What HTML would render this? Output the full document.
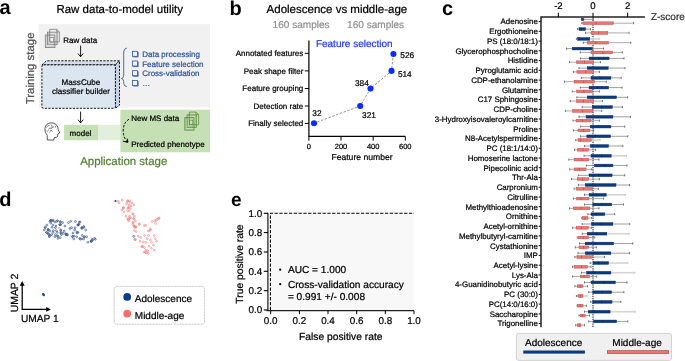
<!DOCTYPE html>
<html><head><meta charset="utf-8"><style>
html,body{margin:0;padding:0;background:#fff;}
body{width:685px;height:361px;overflow:hidden;}
svg{display:block;font-family:"Liberation Sans", sans-serif;will-change:transform;text-rendering:geometricPrecision;}
</style></head><body>
<svg width="685" height="361" viewBox="0 0 685 361">
<text x="-0.6" y="14.4" font-size="20" fill="#000" text-anchor="start" font-weight="bold" >a</text>
<text x="56.4" y="13.3" font-size="11.5" fill="#000" text-anchor="start" stroke="#000" stroke-width="0.22" >Raw data-to-model utility</text>
<rect x="38.8" y="24.2" width="171.2" height="83.2" fill="#f1f1f1"/>
<text transform="translate(33.5,68.4) rotate(-90)" font-size="11.4" fill="#505050" stroke="#505050" stroke-width="0.22" text-anchor="middle">Training stage</text>
<path d="M49.70 29.30 L56.70 29.30 L59.30 31.90 L59.30 41.90 L49.70 41.90 Z M56.70 29.30 L56.70 31.90 L59.30 31.90" fill="none" stroke="#7a7a7a" stroke-width="0.8"/><rect x="47.50" y="32.15" width="9.6" height="12.6" fill="none" stroke="#7a7a7a" stroke-width="0.8"/><rect x="48.40" y="33.05" width="7.80" height="10.80" fill="none" stroke="#7a7a7a" stroke-width="0.48" opacity="0.6"/><rect x="45.30" y="35.00" width="9.6" height="12.6" fill="none" stroke="#7a7a7a" stroke-width="0.8"/><rect x="46.20" y="35.90" width="7.80" height="10.80" fill="none" stroke="#7a7a7a" stroke-width="0.48" opacity="0.6"/><rect x="49.90" y="37.60" width="3.4" height="4.6" fill="none" stroke="#7a7a7a" stroke-width="0.64"/>
<text x="63.3" y="42.8" font-size="8" fill="#000" text-anchor="start" stroke="#000" stroke-width="0.22" >Raw data</text>
<line x1="80.6" y1="45.6" x2="80.6" y2="56.7" stroke="#000" stroke-width="0.9"/><path d="M78.0 53.5 L80.6 56.7 L83.19999999999999 53.5" fill="none" stroke="#000" stroke-width="0.9"/>
<path d="M41.9 64.9 L46.4 60.8 L119.5 60.8 L115.4 64.9 Z" fill="#d4deea" stroke="#000" stroke-width="0.9" stroke-dasharray="2.2 1.3"/>
<path d="M115.4 64.9 L119.5 60.8 L119.5 105.2 L115.4 108.3 Z" fill="#c7d3e2" stroke="#000" stroke-width="0.9" stroke-dasharray="2.2 1.3"/>
<rect x="41.9" y="64.9" width="73.5" height="43.4" rx="1.5" fill="#dce6f1" stroke="#000" stroke-width="0.9" stroke-dasharray="2.2 1.3"/>
<text x="80.9" y="85.0" font-size="8.1" fill="#000" text-anchor="middle" stroke="#000" stroke-width="0.22" >MassCube</text>
<text x="80.9" y="94.3" font-size="8.1" fill="#000" text-anchor="middle" stroke="#000" stroke-width="0.22" >classifier builder</text>
<path d="M126.9 48.0 Q123.7 48.4 123.7 52 L123.7 75.2 Q123.7 78.3 121.4 78.6 Q123.7 78.9 123.7 81.6 L123.7 83.2 Q123.7 86.3 126.9 86.6" fill="none" stroke="#2f5597" stroke-width="0.85"/>
<rect x="132.4" y="51.3" width="5" height="5" fill="none" stroke="#2f5597" stroke-width="0.8"/>
<path d="M133.2 56.9 L138.2 56.9 L138.2 52.1" fill="none" stroke="#2f5597" stroke-width="0.8"/>
<text x="142.2" y="57.0" font-size="8" fill="#2f5597" text-anchor="start" stroke="#2f5597" stroke-width="0.22" >Data processing</text>
<rect x="132.4" y="61.0" width="5" height="5" fill="none" stroke="#2f5597" stroke-width="0.8"/>
<path d="M133.2 66.6 L138.2 66.6 L138.2 61.8" fill="none" stroke="#2f5597" stroke-width="0.8"/>
<text x="142.2" y="66.7" font-size="8" fill="#2f5597" text-anchor="start" stroke="#2f5597" stroke-width="0.22" >Feature selection</text>
<rect x="132.4" y="70.7" width="5" height="5" fill="none" stroke="#2f5597" stroke-width="0.8"/>
<path d="M133.2 76.3 L138.2 76.3 L138.2 71.5" fill="none" stroke="#2f5597" stroke-width="0.8"/>
<text x="142.2" y="76.4" font-size="8" fill="#2f5597" text-anchor="start" stroke="#2f5597" stroke-width="0.22" >Cross-validation</text>
<rect x="132.4" y="80.4" width="5" height="5" fill="none" stroke="#2f5597" stroke-width="0.8"/>
<path d="M133.2 86.0 L138.2 86.0 L138.2 81.2" fill="none" stroke="#2f5597" stroke-width="0.8"/>
<text x="142.2" y="86.1" font-size="8" fill="#2f5597" text-anchor="start" stroke="#2f5597" stroke-width="0.22" >…</text>
<line x1="80.6" y1="111.6" x2="80.6" y2="122.9" stroke="#000" stroke-width="0.9"/><path d="M78.0 119.7 L80.6 122.9 L83.19999999999999 119.7" fill="none" stroke="#000" stroke-width="0.9"/>
<path d="M47.3 140 L47.2 135.3 Q44.6 132.6 44.9 128.6 Q45.6 123.1 51.2 122.9 Q56.2 122.9 57.8 127.2 L58.1 129.6 L59.7 132.9 L57.7 134.2 L57.7 136.1 Q57.4 137.6 54.3 137.6 L53.7 140 Z" fill="#fff" stroke="#222" stroke-width="0.75" stroke-linejoin="round"/>
<path d="M46.5 127.5 Q47.5 125 49.5 125.5 M48.2 129.5 Q50 127 51.5 128.5 Q52.5 126.2 54.2 127 M49.5 132.5 L50.8 130.2 L52.8 131.5 M51 124.5 Q52.5 125.8 51.8 127.6 M54.8 125.5 Q55.8 126 55.5 127.5 M46.4 131 Q47.6 131.6 48.5 130.6" fill="none" stroke="#333" stroke-width="0.6"/>
<rect x="64.1" y="124.8" width="34.1" height="15.5" fill="#c5e0b4"/>
<rect x="98.2" y="124.8" width="22.2" height="15.5" fill="#e2efda"/>
<text x="69.6" y="135.9" font-size="8" fill="#000" text-anchor="start" stroke="#000" stroke-width="0.22" >model</text>
<rect x="120.4" y="109.7" width="89.6" height="42.6" fill="#c5e0b4"/>
<text x="131.2" y="121.3" font-size="8" fill="#000" text-anchor="start" stroke="#000" stroke-width="0.22" >New MS data</text>
<text x="131.2" y="146.9" font-size="8" fill="#000" text-anchor="start" stroke="#000" stroke-width="0.22" >Predicted phenotype</text>
<path d="M189.40 112.10 L196.00 112.10 L198.60 114.70 L198.60 124.70 L189.40 124.70 Z M196.00 112.10 L196.00 114.70 L198.60 114.70" fill="none" stroke="#5f8f45" stroke-width="0.8"/><rect x="187.10" y="114.85" width="9.2" height="12.6" fill="none" stroke="#5f8f45" stroke-width="0.8"/><rect x="188.00" y="115.75" width="7.40" height="10.80" fill="none" stroke="#5f8f45" stroke-width="0.48" opacity="0.6"/><rect x="184.80" y="117.60" width="9.2" height="12.6" fill="none" stroke="#5f8f45" stroke-width="0.8"/><rect x="185.70" y="118.50" width="7.40" height="10.80" fill="none" stroke="#5f8f45" stroke-width="0.48" opacity="0.6"/><rect x="189.40" y="120.20" width="3.4" height="4.6" fill="none" stroke="#5f8f45" stroke-width="0.64"/>
<path d="M129 119.2 Q123.2 122.8 123.2 131 Q123.3 137.2 126.6 140.8" fill="none" stroke="#000" stroke-width="0.95" stroke-dasharray="2.4 1.5"/>
<path d="M122.8 141.2 L127.9 142.2 L127.2 138.6" fill="none" stroke="#000" stroke-width="0.9"/><path d="M125.6 141.8 L127.9 142.2 L127.6 140.2 Z" fill="#000" stroke="#000" stroke-width="0.6"/>
<text x="80.2" y="165" font-size="11.45" fill="#548235" text-anchor="start" stroke="#548235" stroke-width="0.22" >Application stage</text>
<text x="229.6" y="14.6" font-size="20" fill="#000" text-anchor="start" font-weight="bold" >b</text>
<text x="266.6" y="13.4" font-size="11.5" fill="#000" text-anchor="start" stroke="#000" stroke-width="0.22" >Adolescence vs middle-age</text>
<text x="272.6" y="27.8" font-size="10.05" fill="#909090" text-anchor="start" stroke="#909090" stroke-width="0.22" >160 samples</text>
<text x="347.1" y="27.8" font-size="10.05" fill="#909090" text-anchor="start" stroke="#909090" stroke-width="0.22" >160 samples</text>
<text x="315.9" y="46.8" font-size="10" fill="#1e3cff" text-anchor="start" stroke="#1e3cff" stroke-width="0.22" >Feature selection</text>
<path d="M308.9 40.6 L308.9 136.4 L405.3 136.4" fill="none" stroke="#000" stroke-width="1.2"/>
<line x1="304.8" y1="53.3" x2="308.9" y2="53.3" stroke="#000" stroke-width="1"/>
<text x="303.3" y="56.2" font-size="8" fill="#000" text-anchor="end" stroke="#000" stroke-width="0.22" >Annotated features</text>
<line x1="304.8" y1="70.9" x2="308.9" y2="70.9" stroke="#000" stroke-width="1"/>
<text x="303.3" y="73.8" font-size="8" fill="#000" text-anchor="end" stroke="#000" stroke-width="0.22" >Peak shape filter</text>
<line x1="304.8" y1="88.5" x2="308.9" y2="88.5" stroke="#000" stroke-width="1"/>
<text x="303.3" y="91.4" font-size="8" fill="#000" text-anchor="end" stroke="#000" stroke-width="0.22" >Feature grouping</text>
<line x1="304.8" y1="106.0" x2="308.9" y2="106.0" stroke="#000" stroke-width="1"/>
<text x="303.3" y="108.9" font-size="8" fill="#000" text-anchor="end" stroke="#000" stroke-width="0.22" >Detection rate</text>
<line x1="304.8" y1="123.4" x2="308.9" y2="123.4" stroke="#000" stroke-width="1"/>
<text x="303.3" y="126.3" font-size="8" fill="#000" text-anchor="end" stroke="#000" stroke-width="0.22" >Finally selected</text>
<line x1="308.9" y1="136.4" x2="308.9" y2="140.6" stroke="#000" stroke-width="1"/>
<text x="308.9" y="148.7" font-size="7.5" fill="#000" text-anchor="middle" stroke="#000" stroke-width="0.22" >0</text>
<line x1="341.0" y1="136.4" x2="341.0" y2="140.6" stroke="#000" stroke-width="1"/>
<text x="341.0" y="148.7" font-size="7.5" fill="#000" text-anchor="middle" stroke="#000" stroke-width="0.22" >200</text>
<line x1="373.2" y1="136.4" x2="373.2" y2="140.6" stroke="#000" stroke-width="1"/>
<text x="373.2" y="148.7" font-size="7.5" fill="#000" text-anchor="middle" stroke="#000" stroke-width="0.22" >400</text>
<line x1="405.3" y1="136.4" x2="405.3" y2="140.6" stroke="#000" stroke-width="1"/>
<text x="405.3" y="148.7" font-size="7.5" fill="#000" text-anchor="middle" stroke="#000" stroke-width="0.22" >600</text>
<text x="362" y="160" font-size="8.6" fill="#000" text-anchor="middle" stroke="#000" stroke-width="0.22" >Feature number</text>
<path d="M393.4 54 L391.5 70.9 L370.5 88.6 L360.2 106 L314 123.2" fill="none" stroke="#888" stroke-width="0.9" stroke-dasharray="2.5 1.5"/>
<circle cx="393.4" cy="54" r="3.05" fill="#0b2cff"/>
<circle cx="391.5" cy="70.9" r="3.05" fill="#0b2cff"/>
<circle cx="370.5" cy="88.6" r="3.05" fill="#0b2cff"/>
<circle cx="360.2" cy="106" r="3.05" fill="#0b2cff"/>
<circle cx="314" cy="123.2" r="3.05" fill="#0b2cff"/>
<text x="400.3" y="58.0" font-size="8.3" fill="#000" text-anchor="start" stroke="#000" stroke-width="0.22" >526</text>
<text x="397.9" y="76.8" font-size="8.3" fill="#000" text-anchor="start" stroke="#000" stroke-width="0.22" >514</text>
<text x="355" y="86.2" font-size="8.3" fill="#000" text-anchor="start" stroke="#000" stroke-width="0.22" >384</text>
<text x="362.1" y="118.1" font-size="8.3" fill="#000" text-anchor="start" stroke="#000" stroke-width="0.22" >321</text>
<text x="312.3" y="115.6" font-size="8.3" fill="#000" text-anchor="start" stroke="#000" stroke-width="0.22" >32</text>
<text x="442.1" y="14.8" font-size="20" fill="#000" text-anchor="start" font-weight="bold" >c</text>
<path d="M541.0 327.2 L541.0 17.0 L644.9 17.0" fill="none" stroke="#222" stroke-width="1.5"/>
<line x1="558.4" y1="12.8" x2="558.4" y2="17.0" stroke="#111" stroke-width="1.1"/>
<text x="558.4" y="8.8" font-size="9.6" fill="#000" text-anchor="middle" stroke="#000" stroke-width="0.22" >-2</text>
<line x1="593.0" y1="12.8" x2="593.0" y2="17.0" stroke="#111" stroke-width="1.1"/>
<text x="593.0" y="8.8" font-size="9.6" fill="#000" text-anchor="middle" stroke="#000" stroke-width="0.22" >0</text>
<line x1="627.6" y1="12.8" x2="627.6" y2="17.0" stroke="#111" stroke-width="1.1"/>
<text x="627.6" y="8.8" font-size="9.6" fill="#000" text-anchor="middle" stroke="#000" stroke-width="0.22" >2</text>
<text x="650.9" y="20" font-size="10" fill="#333" text-anchor="start" stroke="#333" stroke-width="0.22" >Z-score</text>
<line x1="593" y1="17.5" x2="593" y2="328" stroke="#111" stroke-width="1" stroke-dasharray="1.3 1"/>
<line x1="538.7" y1="21.6" x2="541.0" y2="21.6" stroke="#111" stroke-width="1.0"/>
<text x="537.9" y="24.4" font-size="7.9" fill="#000" text-anchor="end" stroke="#000" stroke-width="0.22" >Adenosine</text>
<line x1="581.5" y1="19.4" x2="581.5" y2="19.4" stroke="#777" stroke-width="0.7"/><line x1="584" y1="19.4" x2="593.3" y2="19.4" stroke="#777" stroke-width="0.7"/><line x1="593.3" y1="18.3" x2="593.3" y2="20.5" stroke="#444" stroke-width="0.7"/><line x1="581.5" y1="18.3" x2="581.5" y2="20.5" stroke="#444" stroke-width="0.7"/><circle cx="582.6" cy="19.4" r="1.4" fill="#0c3a80" stroke="#082a60" stroke-width="0.4"/>
<line x1="581.8" y1="23.2" x2="582.9" y2="23.2" stroke="#8a8a8a" stroke-width="0.7"/><line x1="613.5" y1="23.2" x2="633.6" y2="23.2" stroke="#8a8a8a" stroke-width="0.7"/><line x1="633.6" y1="22.1" x2="633.6" y2="24.3" stroke="#444" stroke-width="0.7"/><line x1="581.8" y1="22.1" x2="581.8" y2="24.3" stroke="#444" stroke-width="0.7"/><rect x="582.9" y="21.85" width="30.6" height="2.7" fill="#f07470" stroke="#b04848" stroke-width="0.45"/><line x1="596.3" y1="21.85" x2="596.3" y2="24.55" stroke="#b04848" stroke-width="0.7"/>
<line x1="538.7" y1="31.3" x2="541.0" y2="31.3" stroke="#111" stroke-width="1.0"/>
<text x="537.9" y="34.1" font-size="7.9" fill="#000" text-anchor="end" stroke="#000" stroke-width="0.22" >Ergothioneine</text>
<line x1="577.5" y1="29.1" x2="579" y2="29.1" stroke="#777" stroke-width="0.7"/><line x1="585.6" y1="29.1" x2="590.5" y2="29.1" stroke="#777" stroke-width="0.7"/><line x1="590.5" y1="28.0" x2="590.5" y2="30.2" stroke="#444" stroke-width="0.7"/><line x1="577.5" y1="28.0" x2="577.5" y2="30.2" stroke="#444" stroke-width="0.7"/><rect x="579" y="27.75" width="6.6" height="2.7" fill="#0c3a80" stroke="#082a60" stroke-width="0.45"/><line x1="581" y1="27.75" x2="581" y2="30.45" stroke="#082a60" stroke-width="0.7"/>
<line x1="585.6" y1="32.9" x2="591" y2="32.9" stroke="#8a8a8a" stroke-width="0.7"/><line x1="607.8" y1="32.9" x2="629" y2="32.9" stroke="#8a8a8a" stroke-width="0.7"/><line x1="629" y1="31.8" x2="629" y2="34.0" stroke="#444" stroke-width="0.7"/><line x1="585.6" y1="31.8" x2="585.6" y2="34.0" stroke="#444" stroke-width="0.7"/><rect x="591" y="31.55" width="16.8" height="2.7" fill="#f07470" stroke="#b04848" stroke-width="0.45"/><line x1="598.6" y1="31.55" x2="598.6" y2="34.25" stroke="#b04848" stroke-width="0.7"/>
<line x1="538.7" y1="41.1" x2="541.0" y2="41.1" stroke="#111" stroke-width="1.0"/>
<text x="537.9" y="43.9" font-size="7.9" fill="#000" text-anchor="end" stroke="#000" stroke-width="0.22" >PS (18:0/18:1)</text>
<line x1="576.4" y1="38.9" x2="577.6" y2="38.9" stroke="#777" stroke-width="0.7"/><line x1="589.8" y1="38.9" x2="599.4" y2="38.9" stroke="#d4d4d4" stroke-width="1.6"/><line x1="599.4" y1="37.9" x2="599.4" y2="39.9" stroke="#bbb" stroke-width="0.7"/><line x1="576.4" y1="37.8" x2="576.4" y2="40.0" stroke="#444" stroke-width="0.7"/><rect x="577.6" y="37.55" width="12.2" height="2.7" fill="#0c3a80" stroke="#082a60" stroke-width="0.45"/><line x1="579.5" y1="37.55" x2="579.5" y2="40.25" stroke="#082a60" stroke-width="0.7"/>
<line x1="583.3" y1="42.7" x2="587.5" y2="42.7" stroke="#8a8a8a" stroke-width="0.7"/><line x1="608.6" y1="42.7" x2="630.8" y2="42.7" stroke="#8a8a8a" stroke-width="0.7"/><line x1="630.8" y1="41.6" x2="630.8" y2="43.8" stroke="#444" stroke-width="0.7"/><line x1="583.3" y1="41.6" x2="583.3" y2="43.8" stroke="#444" stroke-width="0.7"/><rect x="587.5" y="41.35" width="21.1" height="2.7" fill="#f07470" stroke="#b04848" stroke-width="0.45"/><line x1="595.6" y1="41.35" x2="595.6" y2="44.05" stroke="#b04848" stroke-width="0.7"/>
<line x1="538.7" y1="50.8" x2="541.0" y2="50.8" stroke="#111" stroke-width="1.0"/>
<text x="537.9" y="53.6" font-size="7.9" fill="#000" text-anchor="end" stroke="#000" stroke-width="0.22" >Glycerophosphocholine</text>
<line x1="566.5" y1="48.6" x2="572.3" y2="48.6" stroke="#777" stroke-width="0.7"/><line x1="592.2" y1="48.6" x2="603.6" y2="48.6" stroke="#777" stroke-width="0.7"/><line x1="603.6" y1="47.5" x2="603.6" y2="49.7" stroke="#444" stroke-width="0.7"/><line x1="566.5" y1="47.5" x2="566.5" y2="49.7" stroke="#444" stroke-width="0.7"/><rect x="572.3" y="47.25" width="19.9" height="2.7" fill="#0c3a80" stroke="#082a60" stroke-width="0.45"/><line x1="583.6" y1="47.25" x2="583.6" y2="49.95" stroke="#082a60" stroke-width="0.7"/>
<line x1="580.3" y1="52.4" x2="591" y2="52.4" stroke="#8a8a8a" stroke-width="0.7"/><line x1="612.7" y1="52.4" x2="622.4" y2="52.4" stroke="#8a8a8a" stroke-width="0.7"/><line x1="622.4" y1="51.3" x2="622.4" y2="53.5" stroke="#444" stroke-width="0.7"/><line x1="580.3" y1="51.3" x2="580.3" y2="53.5" stroke="#444" stroke-width="0.7"/><rect x="591" y="51.05" width="21.7" height="2.7" fill="#f07470" stroke="#b04848" stroke-width="0.45"/><line x1="602.8" y1="51.05" x2="602.8" y2="53.75" stroke="#b04848" stroke-width="0.7"/>
<line x1="538.7" y1="60.6" x2="541.0" y2="60.6" stroke="#111" stroke-width="1.0"/>
<text x="537.9" y="63.4" font-size="7.9" fill="#000" text-anchor="end" stroke="#000" stroke-width="0.22" >Histidine</text>
<line x1="580.6" y1="58.4" x2="589.1" y2="58.4" stroke="#777" stroke-width="0.7"/><line x1="609.1" y1="58.4" x2="624" y2="58.4" stroke="#777" stroke-width="0.7"/><line x1="624" y1="57.3" x2="624" y2="59.5" stroke="#444" stroke-width="0.7"/><line x1="580.6" y1="57.3" x2="580.6" y2="59.5" stroke="#444" stroke-width="0.7"/><rect x="589.1" y="57.05" width="20.0" height="2.7" fill="#0c3a80" stroke="#082a60" stroke-width="0.45"/><line x1="598.6" y1="57.05" x2="598.6" y2="59.75" stroke="#082a60" stroke-width="0.7"/>
<line x1="569.5" y1="62.2" x2="576.4" y2="62.2" stroke="#8a8a8a" stroke-width="0.7"/><line x1="593.6" y1="62.2" x2="600.5" y2="62.2" stroke="#8a8a8a" stroke-width="0.7"/><line x1="600.5" y1="61.1" x2="600.5" y2="63.3" stroke="#444" stroke-width="0.7"/><line x1="569.5" y1="61.1" x2="569.5" y2="63.3" stroke="#444" stroke-width="0.7"/><rect x="576.4" y="60.85" width="17.2" height="2.7" fill="#f07470" stroke="#b04848" stroke-width="0.45"/><line x1="584.5" y1="60.85" x2="584.5" y2="63.55" stroke="#b04848" stroke-width="0.7"/>
<line x1="538.7" y1="70.3" x2="541.0" y2="70.3" stroke="#111" stroke-width="1.0"/>
<text x="537.9" y="73.1" font-size="7.9" fill="#000" text-anchor="end" stroke="#000" stroke-width="0.22" >Pyroglutamic acid</text>
<line x1="579" y1="68.1" x2="587.2" y2="68.1" stroke="#777" stroke-width="0.7"/><line x1="608.2" y1="68.1" x2="625" y2="68.1" stroke="#777" stroke-width="0.7"/><line x1="625" y1="67.0" x2="625" y2="69.2" stroke="#444" stroke-width="0.7"/><line x1="579" y1="67.0" x2="579" y2="69.2" stroke="#444" stroke-width="0.7"/><rect x="587.2" y="66.75" width="21.0" height="2.7" fill="#0c3a80" stroke="#082a60" stroke-width="0.45"/><line x1="597.1" y1="66.75" x2="597.1" y2="69.45" stroke="#082a60" stroke-width="0.7"/>
<line x1="573.4" y1="71.9" x2="576.9" y2="71.9" stroke="#8a8a8a" stroke-width="0.7"/><line x1="593.6" y1="71.9" x2="599.4" y2="71.9" stroke="#8a8a8a" stroke-width="0.7"/><line x1="599.4" y1="70.8" x2="599.4" y2="73.0" stroke="#444" stroke-width="0.7"/><line x1="573.4" y1="70.8" x2="573.4" y2="73.0" stroke="#444" stroke-width="0.7"/><rect x="576.9" y="70.55" width="16.7" height="2.7" fill="#f07470" stroke="#b04848" stroke-width="0.45"/><line x1="585.6" y1="70.55" x2="585.6" y2="73.25" stroke="#b04848" stroke-width="0.7"/>
<line x1="538.7" y1="80.1" x2="541.0" y2="80.1" stroke="#111" stroke-width="1.0"/>
<text x="537.9" y="82.9" font-size="7.9" fill="#000" text-anchor="end" stroke="#000" stroke-width="0.22" >CDP-ethanolamine</text>
<line x1="581.3" y1="77.9" x2="591" y2="77.9" stroke="#777" stroke-width="0.7"/><line x1="610.9" y1="77.9" x2="621.2" y2="77.9" stroke="#777" stroke-width="0.7"/><line x1="621.2" y1="76.8" x2="621.2" y2="79.0" stroke="#444" stroke-width="0.7"/><line x1="581.3" y1="76.8" x2="581.3" y2="79.0" stroke="#444" stroke-width="0.7"/><rect x="591" y="76.55" width="19.9" height="2.7" fill="#0c3a80" stroke="#082a60" stroke-width="0.45"/><line x1="601" y1="76.55" x2="601" y2="79.25" stroke="#082a60" stroke-width="0.7"/>
<line x1="564.5" y1="81.7" x2="574.1" y2="81.7" stroke="#8a8a8a" stroke-width="0.7"/><line x1="594.4" y1="81.7" x2="606.3" y2="81.7" stroke="#8a8a8a" stroke-width="0.7"/><line x1="606.3" y1="80.6" x2="606.3" y2="82.8" stroke="#444" stroke-width="0.7"/><line x1="564.5" y1="80.6" x2="564.5" y2="82.8" stroke="#444" stroke-width="0.7"/><rect x="574.1" y="80.35" width="20.3" height="2.7" fill="#f07470" stroke="#b04848" stroke-width="0.45"/><line x1="583.3" y1="80.35" x2="583.3" y2="83.05" stroke="#b04848" stroke-width="0.7"/>
<line x1="538.7" y1="89.8" x2="541.0" y2="89.8" stroke="#111" stroke-width="1.0"/>
<text x="537.9" y="92.6" font-size="7.9" fill="#000" text-anchor="end" stroke="#000" stroke-width="0.22" >Glutamine</text>
<line x1="580.3" y1="87.6" x2="589.1" y2="87.6" stroke="#777" stroke-width="0.7"/><line x1="608.6" y1="87.6" x2="622" y2="87.6" stroke="#777" stroke-width="0.7"/><line x1="622" y1="86.5" x2="622" y2="88.7" stroke="#444" stroke-width="0.7"/><line x1="580.3" y1="86.5" x2="580.3" y2="88.7" stroke="#444" stroke-width="0.7"/><rect x="589.1" y="86.25" width="19.5" height="2.7" fill="#0c3a80" stroke="#082a60" stroke-width="0.45"/><line x1="597.6" y1="86.25" x2="597.6" y2="88.95" stroke="#082a60" stroke-width="0.7"/>
<line x1="572.3" y1="91.4" x2="576.7" y2="91.4" stroke="#8a8a8a" stroke-width="0.7"/><line x1="592.5" y1="91.4" x2="599.4" y2="91.4" stroke="#8a8a8a" stroke-width="0.7"/><line x1="599.4" y1="90.3" x2="599.4" y2="92.5" stroke="#444" stroke-width="0.7"/><line x1="572.3" y1="90.3" x2="572.3" y2="92.5" stroke="#444" stroke-width="0.7"/><rect x="576.7" y="90.05" width="15.8" height="2.7" fill="#f07470" stroke="#b04848" stroke-width="0.45"/><line x1="583.8" y1="90.05" x2="583.8" y2="92.75" stroke="#b04848" stroke-width="0.7"/>
<line x1="538.7" y1="99.5" x2="541.0" y2="99.5" stroke="#111" stroke-width="1.0"/>
<text x="537.9" y="102.3" font-size="7.9" fill="#000" text-anchor="end" stroke="#000" stroke-width="0.22" >C17 Sphingosine</text>
<line x1="576.9" y1="97.3" x2="587.2" y2="97.3" stroke="#777" stroke-width="0.7"/><line x1="616.6" y1="97.3" x2="627.5" y2="97.3" stroke="#777" stroke-width="0.7"/><line x1="627.5" y1="96.2" x2="627.5" y2="98.4" stroke="#444" stroke-width="0.7"/><line x1="576.9" y1="96.2" x2="576.9" y2="98.4" stroke="#444" stroke-width="0.7"/><rect x="587.2" y="95.95" width="29.4" height="2.7" fill="#0c3a80" stroke="#082a60" stroke-width="0.45"/><line x1="597.9" y1="95.95" x2="597.9" y2="98.65" stroke="#082a60" stroke-width="0.7"/>
<line x1="570.3" y1="101.1" x2="576.4" y2="101.1" stroke="#8a8a8a" stroke-width="0.7"/><line x1="593.6" y1="101.1" x2="602.5" y2="101.1" stroke="#8a8a8a" stroke-width="0.7"/><line x1="602.5" y1="100.0" x2="602.5" y2="102.2" stroke="#444" stroke-width="0.7"/><line x1="570.3" y1="100.0" x2="570.3" y2="102.2" stroke="#444" stroke-width="0.7"/><rect x="576.4" y="99.75" width="17.2" height="2.7" fill="#f07470" stroke="#b04848" stroke-width="0.45"/><line x1="583.3" y1="99.75" x2="583.3" y2="102.45" stroke="#b04848" stroke-width="0.7"/>
<line x1="538.7" y1="109.3" x2="541.0" y2="109.3" stroke="#111" stroke-width="1.0"/>
<text x="537.9" y="112.1" font-size="7.9" fill="#000" text-anchor="end" stroke="#000" stroke-width="0.22" >CDP-choline</text>
<line x1="582.2" y1="107.1" x2="592.2" y2="107.1" stroke="#777" stroke-width="0.7"/><line x1="612.4" y1="107.1" x2="622.4" y2="107.1" stroke="#777" stroke-width="0.7"/><line x1="622.4" y1="106.0" x2="622.4" y2="108.2" stroke="#444" stroke-width="0.7"/><line x1="582.2" y1="106.0" x2="582.2" y2="108.2" stroke="#444" stroke-width="0.7"/><rect x="592.2" y="105.75" width="20.2" height="2.7" fill="#0c3a80" stroke="#082a60" stroke-width="0.45"/><line x1="601.7" y1="105.75" x2="601.7" y2="108.45" stroke="#082a60" stroke-width="0.7"/>
<line x1="565.4" y1="110.9" x2="572.6" y2="110.9" stroke="#8a8a8a" stroke-width="0.7"/><line x1="592.8" y1="110.9" x2="601.7" y2="110.9" stroke="#8a8a8a" stroke-width="0.7"/><line x1="601.7" y1="109.8" x2="601.7" y2="112.0" stroke="#444" stroke-width="0.7"/><line x1="565.4" y1="109.8" x2="565.4" y2="112.0" stroke="#444" stroke-width="0.7"/><rect x="572.6" y="109.55" width="20.2" height="2.7" fill="#f07470" stroke="#b04848" stroke-width="0.45"/><line x1="582.6" y1="109.55" x2="582.6" y2="112.25" stroke="#b04848" stroke-width="0.7"/>
<line x1="538.7" y1="119.0" x2="541.0" y2="119.0" stroke="#111" stroke-width="1.0"/>
<text x="537.9" y="121.8" font-size="7.9" fill="#000" text-anchor="end" stroke="#000" stroke-width="0.22" >3-Hydroxyisovaleroylcarnitine</text>
<line x1="579" y1="116.8" x2="586.1" y2="116.8" stroke="#777" stroke-width="0.7"/><line x1="612.9" y1="116.8" x2="630.5" y2="116.8" stroke="#777" stroke-width="0.7"/><line x1="630.5" y1="115.7" x2="630.5" y2="117.9" stroke="#444" stroke-width="0.7"/><line x1="579" y1="115.7" x2="579" y2="117.9" stroke="#444" stroke-width="0.7"/><rect x="586.1" y="115.45" width="26.8" height="2.7" fill="#0c3a80" stroke="#082a60" stroke-width="0.45"/><line x1="597.9" y1="115.45" x2="597.9" y2="118.15" stroke="#082a60" stroke-width="0.7"/>
<line x1="573" y1="120.6" x2="576.1" y2="120.6" stroke="#8a8a8a" stroke-width="0.7"/><line x1="591" y1="120.6" x2="599.4" y2="120.6" stroke="#8a8a8a" stroke-width="0.7"/><line x1="599.4" y1="119.5" x2="599.4" y2="121.7" stroke="#444" stroke-width="0.7"/><line x1="573" y1="119.5" x2="573" y2="121.7" stroke="#444" stroke-width="0.7"/><rect x="576.1" y="119.25" width="14.9" height="2.7" fill="#f07470" stroke="#b04848" stroke-width="0.45"/><line x1="582.6" y1="119.25" x2="582.6" y2="121.95" stroke="#b04848" stroke-width="0.7"/>
<line x1="538.7" y1="128.8" x2="541.0" y2="128.8" stroke="#111" stroke-width="1.0"/>
<text x="537.9" y="131.6" font-size="7.9" fill="#000" text-anchor="end" stroke="#000" stroke-width="0.22" >Proline</text>
<line x1="580.7" y1="126.6" x2="590.2" y2="126.6" stroke="#777" stroke-width="0.7"/><line x1="610.9" y1="126.6" x2="624.7" y2="126.6" stroke="#777" stroke-width="0.7"/><line x1="624.7" y1="125.5" x2="624.7" y2="127.7" stroke="#444" stroke-width="0.7"/><line x1="580.7" y1="125.5" x2="580.7" y2="127.7" stroke="#444" stroke-width="0.7"/><rect x="590.2" y="125.25" width="20.7" height="2.7" fill="#0c3a80" stroke="#082a60" stroke-width="0.45"/><line x1="598.6" y1="125.25" x2="598.6" y2="127.95" stroke="#082a60" stroke-width="0.7"/>
<line x1="573.4" y1="130.4" x2="578" y2="130.4" stroke="#8a8a8a" stroke-width="0.7"/><line x1="589.9" y1="130.4" x2="593.7" y2="130.4" stroke="#8a8a8a" stroke-width="0.7"/><line x1="593.7" y1="129.3" x2="593.7" y2="131.5" stroke="#444" stroke-width="0.7"/><line x1="573.4" y1="129.3" x2="573.4" y2="131.5" stroke="#444" stroke-width="0.7"/><rect x="578" y="129.05" width="11.9" height="2.7" fill="#f07470" stroke="#b04848" stroke-width="0.45"/><line x1="583.3" y1="129.05" x2="583.3" y2="131.75" stroke="#b04848" stroke-width="0.7"/>
<line x1="538.7" y1="138.5" x2="541.0" y2="138.5" stroke="#111" stroke-width="1.0"/>
<text x="537.9" y="141.3" font-size="7.9" fill="#000" text-anchor="end" stroke="#000" stroke-width="0.22" >N8-Acetylspermidine</text>
<line x1="580.6" y1="136.3" x2="586.8" y2="136.3" stroke="#777" stroke-width="0.7"/><line x1="610.6" y1="136.3" x2="627.8" y2="136.3" stroke="#777" stroke-width="0.7"/><line x1="627.8" y1="135.2" x2="627.8" y2="137.4" stroke="#444" stroke-width="0.7"/><line x1="580.6" y1="135.2" x2="580.6" y2="137.4" stroke="#444" stroke-width="0.7"/><rect x="586.8" y="134.95" width="23.8" height="2.7" fill="#0c3a80" stroke="#082a60" stroke-width="0.45"/><line x1="594.8" y1="134.95" x2="594.8" y2="137.65" stroke="#082a60" stroke-width="0.7"/>
<line x1="575.7" y1="140.1" x2="578" y2="140.1" stroke="#8a8a8a" stroke-width="0.7"/><line x1="591.3" y1="140.1" x2="600.2" y2="140.1" stroke="#d4d4d4" stroke-width="1.6"/><line x1="600.2" y1="139.1" x2="600.2" y2="141.1" stroke="#bbb" stroke-width="0.7"/><line x1="575.7" y1="139.0" x2="575.7" y2="141.2" stroke="#444" stroke-width="0.7"/><rect x="578" y="138.75" width="13.3" height="2.7" fill="#f07470" stroke="#b04848" stroke-width="0.45"/><line x1="580.3" y1="138.75" x2="580.3" y2="141.45" stroke="#b04848" stroke-width="0.7"/>
<line x1="538.7" y1="148.2" x2="541.0" y2="148.2" stroke="#111" stroke-width="1.0"/>
<text x="537.9" y="151.0" font-size="7.9" fill="#000" text-anchor="end" stroke="#000" stroke-width="0.22" >PC (18:1/14:0)</text>
<line x1="584.5" y1="146.0" x2="590.2" y2="146.0" stroke="#777" stroke-width="0.7"/><line x1="608.6" y1="146.0" x2="622.9" y2="146.0" stroke="#777" stroke-width="0.7"/><line x1="622.9" y1="144.9" x2="622.9" y2="147.1" stroke="#444" stroke-width="0.7"/><line x1="584.5" y1="144.9" x2="584.5" y2="147.1" stroke="#444" stroke-width="0.7"/><rect x="590.2" y="144.65" width="18.4" height="2.7" fill="#0c3a80" stroke="#082a60" stroke-width="0.45"/><line x1="597.6" y1="144.65" x2="597.6" y2="147.35" stroke="#082a60" stroke-width="0.7"/>
<line x1="574.6" y1="149.8" x2="577.6" y2="149.8" stroke="#8a8a8a" stroke-width="0.7"/><line x1="588.7" y1="149.8" x2="595.6" y2="149.8" stroke="#8a8a8a" stroke-width="0.7"/><line x1="595.6" y1="148.7" x2="595.6" y2="150.9" stroke="#444" stroke-width="0.7"/><line x1="574.6" y1="148.7" x2="574.6" y2="150.9" stroke="#444" stroke-width="0.7"/><rect x="577.6" y="148.45" width="11.1" height="2.7" fill="#f07470" stroke="#b04848" stroke-width="0.45"/><line x1="583" y1="148.45" x2="583" y2="151.15" stroke="#b04848" stroke-width="0.7"/>
<line x1="538.7" y1="158.0" x2="541.0" y2="158.0" stroke="#111" stroke-width="1.0"/>
<text x="537.9" y="160.8" font-size="7.9" fill="#000" text-anchor="end" stroke="#000" stroke-width="0.22" >Homoserine lactone</text>
<line x1="584.1" y1="155.8" x2="591" y2="155.8" stroke="#777" stroke-width="0.7"/><line x1="611.2" y1="155.8" x2="626.5" y2="155.8" stroke="#d4d4d4" stroke-width="1.6"/><line x1="626.5" y1="154.8" x2="626.5" y2="156.8" stroke="#bbb" stroke-width="0.7"/><line x1="584.1" y1="154.7" x2="584.1" y2="156.9" stroke="#444" stroke-width="0.7"/><rect x="591" y="154.45" width="20.2" height="2.7" fill="#0c3a80" stroke="#082a60" stroke-width="0.45"/><line x1="601.7" y1="154.45" x2="601.7" y2="157.15" stroke="#082a60" stroke-width="0.7"/>
<line x1="568.8" y1="159.6" x2="574.1" y2="159.6" stroke="#8a8a8a" stroke-width="0.7"/><line x1="588.7" y1="159.6" x2="599" y2="159.6" stroke="#8a8a8a" stroke-width="0.7"/><line x1="599" y1="158.5" x2="599" y2="160.7" stroke="#444" stroke-width="0.7"/><line x1="568.8" y1="158.5" x2="568.8" y2="160.7" stroke="#444" stroke-width="0.7"/><rect x="574.1" y="158.25" width="14.6" height="2.7" fill="#f07470" stroke="#b04848" stroke-width="0.45"/><line x1="581.8" y1="158.25" x2="581.8" y2="160.95" stroke="#b04848" stroke-width="0.7"/>
<line x1="538.7" y1="167.7" x2="541.0" y2="167.7" stroke="#111" stroke-width="1.0"/>
<text x="537.9" y="170.5" font-size="7.9" fill="#000" text-anchor="end" stroke="#000" stroke-width="0.22" >Pipecolinic acid</text>
<line x1="586.4" y1="165.5" x2="594.5" y2="165.5" stroke="#777" stroke-width="0.7"/><line x1="612.9" y1="165.5" x2="627" y2="165.5" stroke="#777" stroke-width="0.7"/><line x1="627" y1="164.4" x2="627" y2="166.6" stroke="#444" stroke-width="0.7"/><line x1="586.4" y1="164.4" x2="586.4" y2="166.6" stroke="#444" stroke-width="0.7"/><rect x="594.5" y="164.15" width="18.4" height="2.7" fill="#0c3a80" stroke="#082a60" stroke-width="0.45"/><line x1="604.8" y1="164.15" x2="604.8" y2="166.85" stroke="#082a60" stroke-width="0.7"/>
<line x1="569.8" y1="169.3" x2="574.1" y2="169.3" stroke="#8a8a8a" stroke-width="0.7"/><line x1="586.1" y1="169.3" x2="591.7" y2="169.3" stroke="#8a8a8a" stroke-width="0.7"/><line x1="591.7" y1="168.2" x2="591.7" y2="170.4" stroke="#444" stroke-width="0.7"/><line x1="569.8" y1="168.2" x2="569.8" y2="170.4" stroke="#444" stroke-width="0.7"/><rect x="574.1" y="167.95" width="12.0" height="2.7" fill="#f07470" stroke="#b04848" stroke-width="0.45"/><line x1="579.5" y1="167.95" x2="579.5" y2="170.65" stroke="#b04848" stroke-width="0.7"/>
<line x1="538.7" y1="177.5" x2="541.0" y2="177.5" stroke="#111" stroke-width="1.0"/>
<text x="537.9" y="180.3" font-size="7.9" fill="#000" text-anchor="end" stroke="#000" stroke-width="0.22" >Thr-Ala</text>
<line x1="578.4" y1="175.3" x2="589" y2="175.3" stroke="#777" stroke-width="0.7"/><line x1="612.1" y1="175.3" x2="624.7" y2="175.3" stroke="#777" stroke-width="0.7"/><line x1="624.7" y1="174.2" x2="624.7" y2="176.4" stroke="#444" stroke-width="0.7"/><line x1="578.4" y1="174.2" x2="578.4" y2="176.4" stroke="#444" stroke-width="0.7"/><rect x="589" y="173.95" width="23.1" height="2.7" fill="#0c3a80" stroke="#082a60" stroke-width="0.45"/><line x1="598.6" y1="173.95" x2="598.6" y2="176.65" stroke="#082a60" stroke-width="0.7"/>
<line x1="571.5" y1="179.1" x2="577.2" y2="179.1" stroke="#8a8a8a" stroke-width="0.7"/><line x1="588.7" y1="179.1" x2="599.4" y2="179.1" stroke="#8a8a8a" stroke-width="0.7"/><line x1="599.4" y1="178.0" x2="599.4" y2="180.2" stroke="#444" stroke-width="0.7"/><line x1="571.5" y1="178.0" x2="571.5" y2="180.2" stroke="#444" stroke-width="0.7"/><rect x="577.2" y="177.75" width="11.5" height="2.7" fill="#f07470" stroke="#b04848" stroke-width="0.45"/><line x1="582.6" y1="177.75" x2="582.6" y2="180.45" stroke="#b04848" stroke-width="0.7"/>
<line x1="538.7" y1="187.2" x2="541.0" y2="187.2" stroke="#111" stroke-width="1.0"/>
<text x="537.9" y="190.0" font-size="7.9" fill="#000" text-anchor="end" stroke="#000" stroke-width="0.22" >Carpronium</text>
<line x1="578.4" y1="185.0" x2="585.2" y2="185.0" stroke="#777" stroke-width="0.7"/><line x1="616" y1="185.0" x2="629.6" y2="185.0" stroke="#777" stroke-width="0.7"/><line x1="629.6" y1="183.9" x2="629.6" y2="186.1" stroke="#444" stroke-width="0.7"/><line x1="578.4" y1="183.9" x2="578.4" y2="186.1" stroke="#444" stroke-width="0.7"/><rect x="585.2" y="183.65" width="30.8" height="2.7" fill="#0c3a80" stroke="#082a60" stroke-width="0.45"/><line x1="595.3" y1="183.65" x2="595.3" y2="186.35" stroke="#082a60" stroke-width="0.7"/>
<line x1="574.1" y1="188.8" x2="576.4" y2="188.8" stroke="#8a8a8a" stroke-width="0.7"/><line x1="592.2" y1="188.8" x2="598.3" y2="188.8" stroke="#8a8a8a" stroke-width="0.7"/><line x1="598.3" y1="187.7" x2="598.3" y2="189.9" stroke="#444" stroke-width="0.7"/><line x1="574.1" y1="187.7" x2="574.1" y2="189.9" stroke="#444" stroke-width="0.7"/><rect x="576.4" y="187.45" width="15.8" height="2.7" fill="#f07470" stroke="#b04848" stroke-width="0.45"/><line x1="583.3" y1="187.45" x2="583.3" y2="190.15" stroke="#b04848" stroke-width="0.7"/>
<line x1="538.7" y1="197.0" x2="541.0" y2="197.0" stroke="#111" stroke-width="1.0"/>
<text x="537.9" y="199.8" font-size="7.9" fill="#000" text-anchor="end" stroke="#000" stroke-width="0.22" >Citrulline</text>
<line x1="584.5" y1="194.8" x2="589.1" y2="194.8" stroke="#777" stroke-width="0.7"/><line x1="606.3" y1="194.8" x2="625.5" y2="194.8" stroke="#d4d4d4" stroke-width="1.6"/><line x1="625.5" y1="193.8" x2="625.5" y2="195.8" stroke="#bbb" stroke-width="0.7"/><line x1="584.5" y1="193.7" x2="584.5" y2="195.9" stroke="#444" stroke-width="0.7"/><rect x="589.1" y="193.45" width="17.2" height="2.7" fill="#0c3a80" stroke="#082a60" stroke-width="0.45"/><line x1="596.3" y1="193.45" x2="596.3" y2="196.15" stroke="#082a60" stroke-width="0.7"/>
<line x1="573.4" y1="198.6" x2="576.7" y2="198.6" stroke="#8a8a8a" stroke-width="0.7"/><line x1="589" y1="198.6" x2="603.6" y2="198.6" stroke="#8a8a8a" stroke-width="0.7"/><line x1="603.6" y1="197.5" x2="603.6" y2="199.7" stroke="#444" stroke-width="0.7"/><line x1="573.4" y1="197.5" x2="573.4" y2="199.7" stroke="#444" stroke-width="0.7"/><rect x="576.7" y="197.25" width="12.3" height="2.7" fill="#f07470" stroke="#b04848" stroke-width="0.45"/><line x1="581" y1="197.25" x2="581" y2="199.95" stroke="#b04848" stroke-width="0.7"/>
<line x1="538.7" y1="206.7" x2="541.0" y2="206.7" stroke="#111" stroke-width="1.0"/>
<text x="537.9" y="209.5" font-size="7.9" fill="#000" text-anchor="end" stroke="#000" stroke-width="0.22" >Methylthioadenosine</text>
<line x1="584.5" y1="204.5" x2="592.8" y2="204.5" stroke="#777" stroke-width="0.7"/><line x1="611.7" y1="204.5" x2="623.5" y2="204.5" stroke="#777" stroke-width="0.7"/><line x1="623.5" y1="203.4" x2="623.5" y2="205.6" stroke="#444" stroke-width="0.7"/><line x1="584.5" y1="203.4" x2="584.5" y2="205.6" stroke="#444" stroke-width="0.7"/><rect x="592.8" y="203.15" width="18.9" height="2.7" fill="#0c3a80" stroke="#082a60" stroke-width="0.45"/><line x1="601.7" y1="203.15" x2="601.7" y2="205.85" stroke="#082a60" stroke-width="0.7"/>
<line x1="569.5" y1="208.3" x2="573.4" y2="208.3" stroke="#8a8a8a" stroke-width="0.7"/><line x1="589.9" y1="208.3" x2="599" y2="208.3" stroke="#8a8a8a" stroke-width="0.7"/><line x1="599" y1="207.2" x2="599" y2="209.4" stroke="#444" stroke-width="0.7"/><line x1="569.5" y1="207.2" x2="569.5" y2="209.4" stroke="#444" stroke-width="0.7"/><rect x="573.4" y="206.95" width="16.5" height="2.7" fill="#f07470" stroke="#b04848" stroke-width="0.45"/><line x1="581" y1="206.95" x2="581" y2="209.65" stroke="#b04848" stroke-width="0.7"/>
<line x1="538.7" y1="216.4" x2="541.0" y2="216.4" stroke="#111" stroke-width="1.0"/>
<text x="537.9" y="219.2" font-size="7.9" fill="#000" text-anchor="end" stroke="#000" stroke-width="0.22" >Ornithine</text>
<line x1="587.9" y1="214.2" x2="591" y2="214.2" stroke="#777" stroke-width="0.7"/><line x1="604.8" y1="214.2" x2="614.7" y2="214.2" stroke="#777" stroke-width="0.7"/><line x1="614.7" y1="213.1" x2="614.7" y2="215.3" stroke="#444" stroke-width="0.7"/><line x1="587.9" y1="213.1" x2="587.9" y2="215.3" stroke="#444" stroke-width="0.7"/><rect x="591" y="212.85" width="13.8" height="2.7" fill="#0c3a80" stroke="#082a60" stroke-width="0.45"/><line x1="596.3" y1="212.85" x2="596.3" y2="215.55" stroke="#082a60" stroke-width="0.7"/>
<line x1="581.8" y1="218.0" x2="582.2" y2="218.0" stroke="#8a8a8a" stroke-width="0.7"/><line x1="587.9" y1="218.0" x2="591.7" y2="218.0" stroke="#8a8a8a" stroke-width="0.7"/><line x1="591.7" y1="216.9" x2="591.7" y2="219.1" stroke="#444" stroke-width="0.7"/><line x1="581.8" y1="216.9" x2="581.8" y2="219.1" stroke="#444" stroke-width="0.7"/><rect x="582.2" y="216.65" width="5.7" height="2.7" fill="#f07470" stroke="#b04848" stroke-width="0.45"/><line x1="584.9" y1="216.65" x2="584.9" y2="219.35" stroke="#b04848" stroke-width="0.7"/>
<line x1="538.7" y1="226.2" x2="541.0" y2="226.2" stroke="#111" stroke-width="1.0"/>
<text x="537.9" y="229.0" font-size="7.9" fill="#000" text-anchor="end" stroke="#000" stroke-width="0.22" >Acetyl-ornithine</text>
<line x1="582.2" y1="224.0" x2="591.3" y2="224.0" stroke="#777" stroke-width="0.7"/><line x1="612.9" y1="224.0" x2="629.8" y2="224.0" stroke="#777" stroke-width="0.7"/><line x1="629.8" y1="222.9" x2="629.8" y2="225.1" stroke="#444" stroke-width="0.7"/><line x1="582.2" y1="222.9" x2="582.2" y2="225.1" stroke="#444" stroke-width="0.7"/><rect x="591.3" y="222.65" width="21.6" height="2.7" fill="#0c3a80" stroke="#082a60" stroke-width="0.45"/><line x1="601.4" y1="222.65" x2="601.4" y2="225.35" stroke="#082a60" stroke-width="0.7"/>
<line x1="572.6" y1="227.8" x2="576.1" y2="227.8" stroke="#8a8a8a" stroke-width="0.7"/><line x1="588.2" y1="227.8" x2="591.7" y2="227.8" stroke="#8a8a8a" stroke-width="0.7"/><line x1="591.7" y1="226.7" x2="591.7" y2="228.9" stroke="#444" stroke-width="0.7"/><line x1="572.6" y1="226.7" x2="572.6" y2="228.9" stroke="#444" stroke-width="0.7"/><rect x="576.1" y="226.45" width="12.1" height="2.7" fill="#f07470" stroke="#b04848" stroke-width="0.45"/><line x1="581.5" y1="226.45" x2="581.5" y2="229.15" stroke="#b04848" stroke-width="0.7"/>
<line x1="538.7" y1="235.9" x2="541.0" y2="235.9" stroke="#111" stroke-width="1.0"/>
<text x="537.9" y="238.7" font-size="7.9" fill="#000" text-anchor="end" stroke="#000" stroke-width="0.22" >Methylbutyryl-carnitine</text>
<line x1="582.2" y1="233.7" x2="587.2" y2="233.7" stroke="#777" stroke-width="0.7"/><line x1="606.8" y1="233.7" x2="629.3" y2="233.7" stroke="#d4d4d4" stroke-width="1.6"/><line x1="629.3" y1="232.7" x2="629.3" y2="234.7" stroke="#bbb" stroke-width="0.7"/><line x1="582.2" y1="232.6" x2="582.2" y2="234.8" stroke="#444" stroke-width="0.7"/><rect x="587.2" y="232.35" width="19.6" height="2.7" fill="#0c3a80" stroke="#082a60" stroke-width="0.45"/><line x1="597.1" y1="232.35" x2="597.1" y2="235.05" stroke="#082a60" stroke-width="0.7"/>
<line x1="577.2" y1="237.5" x2="578.4" y2="237.5" stroke="#8a8a8a" stroke-width="0.7"/><line x1="588.4" y1="237.5" x2="594.8" y2="237.5" stroke="#8a8a8a" stroke-width="0.7"/><line x1="594.8" y1="236.4" x2="594.8" y2="238.6" stroke="#444" stroke-width="0.7"/><line x1="577.2" y1="236.4" x2="577.2" y2="238.6" stroke="#444" stroke-width="0.7"/><rect x="578.4" y="236.15" width="10.0" height="2.7" fill="#f07470" stroke="#b04848" stroke-width="0.45"/><line x1="583.3" y1="236.15" x2="583.3" y2="238.85" stroke="#b04848" stroke-width="0.7"/>
<line x1="538.7" y1="245.7" x2="541.0" y2="245.7" stroke="#111" stroke-width="1.0"/>
<text x="537.9" y="248.5" font-size="7.9" fill="#000" text-anchor="end" stroke="#000" stroke-width="0.22" >Cystathionine</text>
<line x1="579.5" y1="243.5" x2="585.2" y2="243.5" stroke="#777" stroke-width="0.7"/><line x1="613.7" y1="243.5" x2="632.7" y2="243.5" stroke="#777" stroke-width="0.7"/><line x1="632.7" y1="242.4" x2="632.7" y2="244.6" stroke="#444" stroke-width="0.7"/><line x1="579.5" y1="242.4" x2="579.5" y2="244.6" stroke="#444" stroke-width="0.7"/><rect x="585.2" y="242.15" width="28.5" height="2.7" fill="#0c3a80" stroke="#082a60" stroke-width="0.45"/><line x1="595.3" y1="242.15" x2="595.3" y2="244.85" stroke="#082a60" stroke-width="0.7"/>
<line x1="575.3" y1="247.3" x2="579" y2="247.3" stroke="#8a8a8a" stroke-width="0.7"/><line x1="588.7" y1="247.3" x2="596.3" y2="247.3" stroke="#8a8a8a" stroke-width="0.7"/><line x1="596.3" y1="246.2" x2="596.3" y2="248.4" stroke="#444" stroke-width="0.7"/><line x1="575.3" y1="246.2" x2="575.3" y2="248.4" stroke="#444" stroke-width="0.7"/><rect x="579" y="245.95" width="9.7" height="2.7" fill="#f07470" stroke="#b04848" stroke-width="0.45"/><line x1="583.6" y1="245.95" x2="583.6" y2="248.65" stroke="#b04848" stroke-width="0.7"/>
<line x1="538.7" y1="255.4" x2="541.0" y2="255.4" stroke="#111" stroke-width="1.0"/>
<text x="537.9" y="258.2" font-size="7.9" fill="#000" text-anchor="end" stroke="#000" stroke-width="0.22" >IMP</text>
<line x1="578" y1="253.2" x2="585.2" y2="253.2" stroke="#777" stroke-width="0.7"/><line x1="610.9" y1="253.2" x2="629.6" y2="253.2" stroke="#777" stroke-width="0.7"/><line x1="629.6" y1="252.1" x2="629.6" y2="254.3" stroke="#444" stroke-width="0.7"/><line x1="578" y1="252.1" x2="578" y2="254.3" stroke="#444" stroke-width="0.7"/><rect x="585.2" y="251.85" width="25.7" height="2.7" fill="#0c3a80" stroke="#082a60" stroke-width="0.45"/><line x1="597.4" y1="251.85" x2="597.4" y2="254.55" stroke="#082a60" stroke-width="0.7"/>
<line x1="574.9" y1="257.0" x2="576.9" y2="257.0" stroke="#8a8a8a" stroke-width="0.7"/><line x1="592.2" y1="257.0" x2="604.5" y2="257.0" stroke="#8a8a8a" stroke-width="0.7"/><line x1="604.5" y1="255.9" x2="604.5" y2="258.1" stroke="#444" stroke-width="0.7"/><line x1="574.9" y1="255.9" x2="574.9" y2="258.1" stroke="#444" stroke-width="0.7"/><rect x="576.9" y="255.65" width="15.3" height="2.7" fill="#f07470" stroke="#b04848" stroke-width="0.45"/><line x1="581.5" y1="255.65" x2="581.5" y2="258.35" stroke="#b04848" stroke-width="0.7"/>
<line x1="538.7" y1="265.2" x2="541.0" y2="265.2" stroke="#111" stroke-width="1.0"/>
<text x="537.9" y="268.0" font-size="7.9" fill="#000" text-anchor="end" stroke="#000" stroke-width="0.22" >Acetyl-lysine</text>
<line x1="590.2" y1="263.0" x2="593.3" y2="263.0" stroke="#777" stroke-width="0.7"/><line x1="608.6" y1="263.0" x2="627.8" y2="263.0" stroke="#d4d4d4" stroke-width="1.6"/><line x1="627.8" y1="262.0" x2="627.8" y2="264.0" stroke="#bbb" stroke-width="0.7"/><line x1="590.2" y1="261.9" x2="590.2" y2="264.1" stroke="#444" stroke-width="0.7"/><rect x="593.3" y="261.65" width="15.3" height="2.7" fill="#0c3a80" stroke="#082a60" stroke-width="0.45"/><line x1="598.6" y1="261.65" x2="598.6" y2="264.35" stroke="#082a60" stroke-width="0.7"/>
<line x1="572.6" y1="266.8" x2="574.1" y2="266.8" stroke="#8a8a8a" stroke-width="0.7"/><line x1="587.6" y1="266.8" x2="591" y2="266.8" stroke="#8a8a8a" stroke-width="0.7"/><line x1="591" y1="265.7" x2="591" y2="267.9" stroke="#444" stroke-width="0.7"/><line x1="572.6" y1="265.7" x2="572.6" y2="267.9" stroke="#444" stroke-width="0.7"/><rect x="574.1" y="265.45" width="13.5" height="2.7" fill="#f07470" stroke="#b04848" stroke-width="0.45"/><line x1="581.5" y1="265.45" x2="581.5" y2="268.15" stroke="#b04848" stroke-width="0.7"/>
<line x1="538.7" y1="274.9" x2="541.0" y2="274.9" stroke="#111" stroke-width="1.0"/>
<text x="537.9" y="277.7" font-size="7.9" fill="#000" text-anchor="end" stroke="#000" stroke-width="0.22" >Lys-Ala</text>
<line x1="581.5" y1="272.7" x2="586.7" y2="272.7" stroke="#777" stroke-width="0.7"/><line x1="610.9" y1="272.7" x2="635" y2="272.7" stroke="#d4d4d4" stroke-width="1.6"/><line x1="635" y1="271.7" x2="635" y2="273.7" stroke="#bbb" stroke-width="0.7"/><line x1="581.5" y1="271.6" x2="581.5" y2="273.8" stroke="#444" stroke-width="0.7"/><rect x="586.7" y="271.35" width="24.2" height="2.7" fill="#0c3a80" stroke="#082a60" stroke-width="0.45"/><line x1="593.3" y1="271.35" x2="593.3" y2="274.05" stroke="#082a60" stroke-width="0.7"/>
<line x1="572.6" y1="276.5" x2="580.3" y2="276.5" stroke="#8a8a8a" stroke-width="0.7"/><line x1="589.5" y1="276.5" x2="596.7" y2="276.5" stroke="#8a8a8a" stroke-width="0.7"/><line x1="596.7" y1="275.4" x2="596.7" y2="277.6" stroke="#444" stroke-width="0.7"/><line x1="572.6" y1="275.4" x2="572.6" y2="277.6" stroke="#444" stroke-width="0.7"/><rect x="580.3" y="275.15" width="9.2" height="2.7" fill="#f07470" stroke="#b04848" stroke-width="0.45"/><line x1="584.1" y1="275.15" x2="584.1" y2="277.85" stroke="#b04848" stroke-width="0.7"/>
<line x1="538.7" y1="284.6" x2="541.0" y2="284.6" stroke="#111" stroke-width="1.0"/>
<text x="537.9" y="287.4" font-size="7.9" fill="#000" text-anchor="end" stroke="#000" stroke-width="0.22" >4-Guanidinobutyric acid</text>
<line x1="584.5" y1="282.4" x2="591" y2="282.4" stroke="#777" stroke-width="0.7"/><line x1="615.5" y1="282.4" x2="627" y2="282.4" stroke="#777" stroke-width="0.7"/><line x1="627" y1="281.3" x2="627" y2="283.5" stroke="#444" stroke-width="0.7"/><line x1="584.5" y1="281.3" x2="584.5" y2="283.5" stroke="#444" stroke-width="0.7"/><rect x="591" y="281.05" width="24.5" height="2.7" fill="#0c3a80" stroke="#082a60" stroke-width="0.45"/><line x1="603.6" y1="281.05" x2="603.6" y2="283.75" stroke="#082a60" stroke-width="0.7"/>
<line x1="574.9" y1="286.2" x2="577.2" y2="286.2" stroke="#8a8a8a" stroke-width="0.7"/><line x1="582.9" y1="286.2" x2="587.5" y2="286.2" stroke="#8a8a8a" stroke-width="0.7"/><line x1="587.5" y1="285.1" x2="587.5" y2="287.3" stroke="#444" stroke-width="0.7"/><line x1="574.9" y1="285.1" x2="574.9" y2="287.3" stroke="#444" stroke-width="0.7"/><rect x="577.2" y="284.85" width="5.7" height="2.7" fill="#f07470" stroke="#b04848" stroke-width="0.45"/><line x1="580.3" y1="284.85" x2="580.3" y2="287.55" stroke="#b04848" stroke-width="0.7"/>
<line x1="538.7" y1="294.4" x2="541.0" y2="294.4" stroke="#111" stroke-width="1.0"/>
<text x="537.9" y="297.2" font-size="7.9" fill="#000" text-anchor="end" stroke="#000" stroke-width="0.22" >PC (30:0)</text>
<line x1="588.7" y1="292.2" x2="592.8" y2="292.2" stroke="#777" stroke-width="0.7"/><line x1="611.7" y1="292.2" x2="623.9" y2="292.2" stroke="#777" stroke-width="0.7"/><line x1="623.9" y1="291.1" x2="623.9" y2="293.3" stroke="#444" stroke-width="0.7"/><line x1="588.7" y1="291.1" x2="588.7" y2="293.3" stroke="#444" stroke-width="0.7"/><rect x="592.8" y="290.85" width="18.9" height="2.7" fill="#0c3a80" stroke="#082a60" stroke-width="0.45"/><line x1="602.5" y1="290.85" x2="602.5" y2="293.55" stroke="#082a60" stroke-width="0.7"/>
<line x1="576.4" y1="296.0" x2="578" y2="296.0" stroke="#8a8a8a" stroke-width="0.7"/><line x1="583" y1="296.0" x2="587.2" y2="296.0" stroke="#d4d4d4" stroke-width="1.6"/><line x1="587.2" y1="295.0" x2="587.2" y2="297.0" stroke="#bbb" stroke-width="0.7"/><line x1="576.4" y1="294.9" x2="576.4" y2="297.1" stroke="#444" stroke-width="0.7"/><rect x="578" y="294.65" width="5.0" height="2.7" fill="#f07470" stroke="#b04848" stroke-width="0.45"/><line x1="580.3" y1="294.65" x2="580.3" y2="297.35" stroke="#b04848" stroke-width="0.7"/>
<line x1="538.7" y1="304.1" x2="541.0" y2="304.1" stroke="#111" stroke-width="1.0"/>
<text x="537.9" y="306.9" font-size="7.9" fill="#000" text-anchor="end" stroke="#000" stroke-width="0.22" >PC(14:0/16:0)</text>
<line x1="590.7" y1="301.9" x2="592.8" y2="301.9" stroke="#777" stroke-width="0.7"/><line x1="612" y1="301.9" x2="620.9" y2="301.9" stroke="#777" stroke-width="0.7"/><line x1="620.9" y1="300.8" x2="620.9" y2="303.0" stroke="#444" stroke-width="0.7"/><line x1="590.7" y1="300.8" x2="590.7" y2="303.0" stroke="#444" stroke-width="0.7"/><rect x="592.8" y="300.55" width="19.2" height="2.7" fill="#0c3a80" stroke="#082a60" stroke-width="0.45"/><line x1="601.7" y1="300.55" x2="601.7" y2="303.25" stroke="#082a60" stroke-width="0.7"/>
<line x1="577.2" y1="305.7" x2="577.6" y2="305.7" stroke="#8a8a8a" stroke-width="0.7"/><line x1="583" y1="305.7" x2="586.4" y2="305.7" stroke="#8a8a8a" stroke-width="0.7"/><line x1="586.4" y1="304.6" x2="586.4" y2="306.8" stroke="#444" stroke-width="0.7"/><line x1="577.2" y1="304.6" x2="577.2" y2="306.8" stroke="#444" stroke-width="0.7"/><rect x="577.6" y="304.35" width="5.4" height="2.7" fill="#f07470" stroke="#b04848" stroke-width="0.45"/><line x1="580.3" y1="304.35" x2="580.3" y2="307.05" stroke="#b04848" stroke-width="0.7"/>
<line x1="538.7" y1="313.9" x2="541.0" y2="313.9" stroke="#111" stroke-width="1.0"/>
<text x="537.9" y="316.7" font-size="7.9" fill="#000" text-anchor="end" stroke="#000" stroke-width="0.22" >Saccharopine</text>
<line x1="584.5" y1="311.7" x2="588.2" y2="311.7" stroke="#777" stroke-width="0.7"/><line x1="610.1" y1="311.7" x2="635.4" y2="311.7" stroke="#d4d4d4" stroke-width="1.6"/><line x1="635.4" y1="310.7" x2="635.4" y2="312.7" stroke="#bbb" stroke-width="0.7"/><line x1="584.5" y1="310.6" x2="584.5" y2="312.8" stroke="#444" stroke-width="0.7"/><rect x="588.2" y="310.35" width="21.9" height="2.7" fill="#0c3a80" stroke="#082a60" stroke-width="0.45"/><line x1="594" y1="310.35" x2="594" y2="313.05" stroke="#082a60" stroke-width="0.7"/>
<line x1="579" y1="315.5" x2="580.3" y2="315.5" stroke="#8a8a8a" stroke-width="0.7"/><line x1="585.2" y1="315.5" x2="589.5" y2="315.5" stroke="#8a8a8a" stroke-width="0.7"/><line x1="589.5" y1="314.4" x2="589.5" y2="316.6" stroke="#444" stroke-width="0.7"/><line x1="579" y1="314.4" x2="579" y2="316.6" stroke="#444" stroke-width="0.7"/><rect x="580.3" y="314.15" width="4.9" height="2.7" fill="#f07470" stroke="#b04848" stroke-width="0.45"/><line x1="582.6" y1="314.15" x2="582.6" y2="316.85" stroke="#b04848" stroke-width="0.7"/>
<line x1="538.7" y1="323.6" x2="541.0" y2="323.6" stroke="#111" stroke-width="1.0"/>
<text x="537.9" y="326.4" font-size="7.9" fill="#000" text-anchor="end" stroke="#000" stroke-width="0.22" >Trigonelline</text>
<line x1="588.7" y1="321.4" x2="593.7" y2="321.4" stroke="#777" stroke-width="0.7"/><line x1="616.7" y1="321.4" x2="627.8" y2="321.4" stroke="#777" stroke-width="0.7"/><line x1="627.8" y1="320.3" x2="627.8" y2="322.5" stroke="#444" stroke-width="0.7"/><line x1="588.7" y1="320.3" x2="588.7" y2="322.5" stroke="#444" stroke-width="0.7"/><rect x="593.7" y="320.05" width="23.0" height="2.7" fill="#0c3a80" stroke="#082a60" stroke-width="0.45"/><line x1="602.8" y1="320.05" x2="602.8" y2="322.75" stroke="#082a60" stroke-width="0.7"/>
<line x1="575.7" y1="325.2" x2="577.2" y2="325.2" stroke="#8a8a8a" stroke-width="0.7"/><line x1="581" y1="325.2" x2="584.5" y2="325.2" stroke="#8a8a8a" stroke-width="0.7"/><line x1="584.5" y1="324.1" x2="584.5" y2="326.3" stroke="#444" stroke-width="0.7"/><line x1="575.7" y1="324.1" x2="575.7" y2="326.3" stroke="#444" stroke-width="0.7"/><rect x="577.2" y="323.85" width="3.8" height="2.7" fill="#f07470" stroke="#b04848" stroke-width="0.45"/><line x1="579.3" y1="323.85" x2="579.3" y2="326.55" stroke="#b04848" stroke-width="0.7"/>
<rect x="516.4" y="333.4" width="155.1" height="27" rx="2.5" fill="#f0f0f0" stroke="#c8c8c8" stroke-width="0.8"/>
<text x="525.0" y="346" font-size="10" fill="#000" text-anchor="start" stroke="#000" stroke-width="0.22" >Adolescence</text>
<rect x="523.3" y="350.5" width="61.6" height="3.1" fill="#0c3a80"/>
<text x="612.3" y="346" font-size="10" fill="#000" text-anchor="start" stroke="#000" stroke-width="0.22" >Middle-age</text>
<rect x="607.3" y="350.7" width="61.4" height="2.8" fill="#f07470" stroke="#a03a3a" stroke-width="0.6"/>
<text x="-0.8" y="205.9" font-size="20" fill="#000" text-anchor="start" font-weight="bold" >d</text>
<g fill="none" stroke="#173a78" stroke-width="0.7" opacity="0.85"><circle cx="51.1" cy="220.4" r="0.9"/><circle cx="50.6" cy="220.5" r="0.9"/><circle cx="50.9" cy="220.6" r="0.9"/><circle cx="49.9" cy="221.3" r="0.9"/><circle cx="52.9" cy="220.9" r="0.9"/><circle cx="53.1" cy="220.1" r="0.9"/><circle cx="55" cy="222.1" r="0.9"/><circle cx="57.6" cy="220.7" r="0.9"/><circle cx="56.7" cy="221.3" r="0.9"/><circle cx="60.6" cy="222.1" r="0.9"/><circle cx="60.2" cy="221.6" r="0.9"/><circle cx="62.7" cy="222.6" r="0.9"/><circle cx="50.7" cy="223" r="0.9"/><circle cx="46.9" cy="225.1" r="0.9"/><circle cx="52.9" cy="225.1" r="0.9"/><circle cx="55.9" cy="226" r="0.9"/><circle cx="59.7" cy="224.7" r="0.9"/><circle cx="60.6" cy="224.6" r="0.9"/><circle cx="60.3" cy="224.7" r="0.9"/><circle cx="64.9" cy="226" r="0.9"/><circle cx="45.1" cy="227.7" r="0.9"/><circle cx="45.4" cy="227.1" r="0.9"/><circle cx="52" cy="227.3" r="0.9"/><circle cx="55.4" cy="227.7" r="0.9"/><circle cx="44.3" cy="229.9" r="0.9"/><circle cx="48.1" cy="229.4" r="0.9"/><circle cx="48.3" cy="230.1" r="0.9"/><circle cx="48.1" cy="229.8" r="0.9"/><circle cx="49.9" cy="230.7" r="0.9"/><circle cx="53.3" cy="230.7" r="0.9"/><circle cx="56.3" cy="230.7" r="0.9"/><circle cx="60.6" cy="230.7" r="0.9"/><circle cx="60.9" cy="229.9" r="0.9"/><circle cx="64" cy="231.2" r="0.9"/><circle cx="46.4" cy="232.4" r="0.9"/><circle cx="46.9" cy="232.6" r="0.9"/><circle cx="48.6" cy="234.2" r="0.9"/><circle cx="48.2" cy="233.4" r="0.9"/><circle cx="52.9" cy="232.4" r="0.9"/><circle cx="57.2" cy="232.4" r="0.9"/><circle cx="60.6" cy="232.9" r="0.9"/><circle cx="61.3" cy="232.9" r="0.9"/><circle cx="65.7" cy="233.7" r="0.9"/><circle cx="66.1" cy="234.4" r="0.9"/><circle cx="66.1" cy="234.5" r="0.9"/><circle cx="67.4" cy="234.6" r="0.9"/><circle cx="67.2" cy="235.1" r="0.9"/><circle cx="49.4" cy="235.9" r="0.9"/><circle cx="49.3" cy="236.7" r="0.9"/><circle cx="50.1" cy="235.2" r="0.9"/><circle cx="51.6" cy="234.6" r="0.9"/><circle cx="55.4" cy="234.6" r="0.9"/><circle cx="55" cy="236.7" r="0.9"/><circle cx="58" cy="236.3" r="0.9"/><circle cx="57.3" cy="235.8" r="0.9"/><circle cx="58" cy="238.4" r="0.9"/><circle cx="60.2" cy="237.6" r="0.9"/><circle cx="61.4" cy="234.6" r="0.9"/><circle cx="63.2" cy="233.3" r="0.9"/><circle cx="70.7" cy="221.3" r="0.9"/><circle cx="75.4" cy="221.5" r="0.9"/><circle cx="79.3" cy="222.1" r="0.9"/><circle cx="80.1" cy="222.0" r="0.9"/><circle cx="78" cy="225.1" r="0.9"/><circle cx="78.2" cy="224.7" r="0.9"/><circle cx="78.0" cy="224.9" r="0.9"/><circle cx="78.9" cy="224.3" r="0.9"/><circle cx="81.9" cy="227.7" r="0.9"/><circle cx="81.6" cy="227.9" r="0.9"/><circle cx="82.1" cy="228.4" r="0.9"/><circle cx="83.6" cy="226.4" r="0.9"/><circle cx="83.9" cy="227.2" r="0.9"/><circle cx="85.7" cy="229.9" r="0.9"/><circle cx="71.6" cy="227.7" r="0.9"/><circle cx="75" cy="227.7" r="0.9"/><circle cx="74.6" cy="229.9" r="0.9"/><circle cx="76.7" cy="232" r="0.9"/><circle cx="77.3" cy="232.9" r="0.9"/><circle cx="78" cy="232.4" r="0.9"/><circle cx="72.4" cy="236.7" r="0.9"/><circle cx="72.7" cy="236.1" r="0.9"/><circle cx="74.1" cy="236.3" r="0.9"/><circle cx="73.7" cy="238.9" r="0.9"/><circle cx="76.7" cy="236.7" r="0.9"/><circle cx="79.7" cy="238.4" r="0.9"/><circle cx="80.3" cy="239.2" r="0.9"/><circle cx="81.9" cy="238.9" r="0.9"/><circle cx="83.6" cy="238.9" r="0.9"/><circle cx="82.3" cy="235.4" r="0.9"/><circle cx="84" cy="236.7" r="0.9"/><circle cx="84.7" cy="236.8" r="0.9"/><circle cx="86.6" cy="236.7" r="0.9"/><circle cx="87.9" cy="242.3" r="0.9"/><circle cx="90.9" cy="241.4" r="0.9"/><circle cx="91.3" cy="240.9" r="0.9"/><circle cx="91.5" cy="241.5" r="0.9"/><circle cx="92.6" cy="240.2" r="0.9"/><circle cx="92.2" cy="239.4" r="0.9"/><circle cx="94.7" cy="238.4" r="0.9"/><circle cx="95.3" cy="239.3" r="0.9"/><circle cx="70" cy="228.5" r="0.9"/><circle cx="68.5" cy="222.6" r="0.9"/><circle cx="73" cy="233" r="0.9"/></g>
<g fill="none" stroke="#e85a5a" stroke-width="0.7" opacity="0.7"><circle cx="118" cy="201.2" r="0.9"/><circle cx="118.9" cy="202.8" r="0.9"/><circle cx="122.2" cy="200.2" r="0.9"/><circle cx="127.9" cy="201.2" r="0.9"/><circle cx="127.2" cy="201.7" r="0.9"/><circle cx="127.7" cy="200.6" r="0.9"/><circle cx="129.3" cy="200.7" r="0.9"/><circle cx="130.2" cy="202.1" r="0.9"/><circle cx="132.1" cy="202.8" r="0.9"/><circle cx="134" cy="204.9" r="0.9"/><circle cx="126.5" cy="204" r="0.9"/><circle cx="129.3" cy="204.9" r="0.9"/><circle cx="131.2" cy="205.9" r="0.9"/><circle cx="128.3" cy="207.8" r="0.9"/><circle cx="127.9" cy="208.3" r="0.9"/><circle cx="129.0" cy="207.0" r="0.9"/><circle cx="130.2" cy="208.7" r="0.9"/><circle cx="127.4" cy="210.6" r="0.9"/><circle cx="129.3" cy="211.1" r="0.9"/><circle cx="123.2" cy="208.2" r="0.9"/><circle cx="123.4" cy="207.4" r="0.9"/><circle cx="123.6" cy="207.9" r="0.9"/><circle cx="121.8" cy="210.1" r="0.9"/><circle cx="124.1" cy="212" r="0.9"/><circle cx="132.6" cy="213.9" r="0.9"/><circle cx="126" cy="216.2" r="0.9"/><circle cx="129.3" cy="216.2" r="0.9"/><circle cx="127.9" cy="218.6" r="0.9"/><circle cx="128.6" cy="219.5" r="0.9"/><circle cx="127.9" cy="219.5" r="0.9"/><circle cx="130.7" cy="217.6" r="0.9"/><circle cx="134.5" cy="216.2" r="0.9"/><circle cx="134" cy="219" r="0.9"/><circle cx="128.8" cy="220.9" r="0.9"/><circle cx="135.4" cy="220.9" r="0.9"/><circle cx="133" cy="222.8" r="0.9"/><circle cx="133" cy="224.7" r="0.9"/><circle cx="139.2" cy="224.2" r="0.9"/><circle cx="134.5" cy="227" r="0.9"/><circle cx="134.2" cy="226.2" r="0.9"/><circle cx="134.7" cy="226.2" r="0.9"/><circle cx="136.3" cy="227" r="0.9"/><circle cx="144.3" cy="225.6" r="0.9"/><circle cx="133.1" cy="213.9" r="0.9"/><circle cx="129.9" cy="217.7" r="0.9"/><circle cx="133.7" cy="218.4" r="0.9"/><circle cx="133.1" cy="222.2" r="0.9"/><circle cx="135.6" cy="227.3" r="0.9"/><circle cx="135.1" cy="227.1" r="0.9"/><circle cx="134.4" cy="230.5" r="0.9"/><circle cx="136.3" cy="231.7" r="0.9"/><circle cx="139.5" cy="224.1" r="0.9"/><circle cx="145.8" cy="225.4" r="0.9"/><circle cx="148.4" cy="231.1" r="0.9"/><circle cx="150.3" cy="229.8" r="0.9"/><circle cx="150.5" cy="229.2" r="0.9"/><circle cx="149.5" cy="230.5" r="0.9"/><circle cx="152.2" cy="221.5" r="0.9"/><circle cx="154.7" cy="220.9" r="0.9"/><circle cx="156.6" cy="219.6" r="0.9"/><circle cx="156.3" cy="220.4" r="0.9"/><circle cx="158.5" cy="218.4" r="0.9"/><circle cx="159.2" cy="218.2" r="0.9"/><circle cx="158.4" cy="218.4" r="0.9"/><circle cx="155.4" cy="223.5" r="0.9"/><circle cx="135" cy="239.4" r="0.9"/><circle cx="135.3" cy="239.6" r="0.9"/><circle cx="135.1" cy="239.6" r="0.9"/><circle cx="138.2" cy="236.2" r="0.9"/><circle cx="140.7" cy="237.5" r="0.9"/><circle cx="140.1" cy="241.3" r="0.9"/><circle cx="143.3" cy="241.9" r="0.9"/><circle cx="145.8" cy="242.5" r="0.9"/><circle cx="144.5" cy="235.5" r="0.9"/><circle cx="148.4" cy="235.5" r="0.9"/><circle cx="147.1" cy="238.7" r="0.9"/><circle cx="150.3" cy="240" r="0.9"/><circle cx="151.5" cy="242.5" r="0.9"/><circle cx="154.1" cy="235.5" r="0.9"/><circle cx="155.4" cy="238.7" r="0.9"/><circle cx="156.6" cy="241.3" r="0.9"/><circle cx="153.5" cy="245.1" r="0.9"/><circle cx="142" cy="246.4" r="0.9"/><circle cx="142.8" cy="246.4" r="0.9"/><circle cx="141.9" cy="246.8" r="0.9"/><circle cx="144.5" cy="247.6" r="0.9"/><circle cx="149" cy="246.4" r="0.9"/><circle cx="151.5" cy="248.3" r="0.9"/><circle cx="154.1" cy="250.2" r="0.9"/><circle cx="145.8" cy="250.2" r="0.9"/><circle cx="145.8" cy="252.7" r="0.9"/><circle cx="145.3" cy="252.3" r="0.9"/><circle cx="146.7" cy="252.7" r="0.9"/><circle cx="148.4" cy="253.4" r="0.9"/><circle cx="147.7" cy="250.8" r="0.9"/><circle cx="143.9" cy="252.1" r="0.9"/></g>
<circle cx="115.5" cy="201" r="1" fill="#1d3f7c"/>
<circle cx="59.3" cy="228.2" r="0.9" fill="none" stroke="#f08080" stroke-width="0.7" opacity="0.8"/>
<circle cx="133.8" cy="236.4" r="1" fill="none" stroke="#1d3f7c" stroke-width="0.6"/>
<path d="M22.2 284 L22.2 309.4 L49 309.4" fill="none" stroke="#000" stroke-width="1.25"/>
<path d="M19.7 285.8 L22.2 281.0 L24.7 285.8 Z" fill="#000"/>
<path d="M46.2 307.1 L50.9 309.4 L46.2 311.7 Z" fill="#000"/>
<text transform="translate(18.3,293.0) rotate(-90)" font-size="10.4" stroke="#000" stroke-width="0.22" text-anchor="middle">UMAP 2</text>
<text x="20.9" y="322.2" font-size="10.2" fill="#000" text-anchor="start" stroke="#000" stroke-width="0.22" >UMAP 1</text>
<ellipse cx="43.5" cy="294.6" rx="1.3" ry="1.75" transform="rotate(-30 43.5 294.6)" fill="#1d3f7c"/>
<rect x="114.2" y="286.4" width="90.4" height="37.8" rx="2.5" fill="#fff" stroke="#999" stroke-width="0.6" stroke-dasharray="1 0.5"/>
<circle cx="127.2" cy="296.9" r="3.85" fill="#0b3d8a"/>
<circle cx="127.2" cy="313.7" r="3.85" fill="#f46e6e"/>
<text x="134.8" y="302" font-size="10" fill="#000" text-anchor="start" stroke="#000" stroke-width="0.22" >Adolescence</text>
<text x="134.8" y="318.5" font-size="10" fill="#000" text-anchor="start" stroke="#000" stroke-width="0.22" >Middle-age</text>
<text x="230.9" y="205.7" font-size="19" fill="#000" text-anchor="start" font-weight="bold" >e</text>
<rect x="270.7" y="213.3" width="143.3" height="97.4" fill="#f8f8f8"/>
<path d="M267.9 212.7 L267.9 310.7 M266.6 310.7 L414 310.7" fill="none" stroke="#222" stroke-width="1.25"/>
<line x1="263.8" y1="310.0" x2="267.9" y2="310.0" stroke="#000" stroke-width="1.1"/>
<text x="262.3" y="313.4" font-size="9.9" fill="#000" text-anchor="end" stroke="#000" stroke-width="0.22" >0.0</text>
<line x1="270.7" y1="310.7" x2="270.7" y2="314.2" stroke="#000" stroke-width="1"/>
<text x="270.7" y="324.1" font-size="9.9" fill="#000" text-anchor="middle" stroke="#000" stroke-width="0.22" >0.0</text>
<line x1="263.8" y1="290.7" x2="267.9" y2="290.7" stroke="#000" stroke-width="1.1"/>
<text x="262.3" y="294.1" font-size="9.9" fill="#000" text-anchor="end" stroke="#000" stroke-width="0.22" >0.2</text>
<line x1="299.4" y1="310.7" x2="299.4" y2="314.2" stroke="#000" stroke-width="1"/>
<text x="299.4" y="324.1" font-size="9.9" fill="#000" text-anchor="middle" stroke="#000" stroke-width="0.22" >0.2</text>
<line x1="263.8" y1="271.3" x2="267.9" y2="271.3" stroke="#000" stroke-width="1.1"/>
<text x="262.3" y="274.7" font-size="9.9" fill="#000" text-anchor="end" stroke="#000" stroke-width="0.22" >0.4</text>
<line x1="328.0" y1="310.7" x2="328.0" y2="314.2" stroke="#000" stroke-width="1"/>
<text x="328.0" y="324.1" font-size="9.9" fill="#000" text-anchor="middle" stroke="#000" stroke-width="0.22" >0.4</text>
<line x1="263.8" y1="252.0" x2="267.9" y2="252.0" stroke="#000" stroke-width="1.1"/>
<text x="262.3" y="255.4" font-size="9.9" fill="#000" text-anchor="end" stroke="#000" stroke-width="0.22" >0.6</text>
<line x1="356.7" y1="310.7" x2="356.7" y2="314.2" stroke="#000" stroke-width="1"/>
<text x="356.7" y="324.1" font-size="9.9" fill="#000" text-anchor="middle" stroke="#000" stroke-width="0.22" >0.6</text>
<line x1="263.8" y1="232.6" x2="267.9" y2="232.6" stroke="#000" stroke-width="1.1"/>
<text x="262.3" y="236.0" font-size="9.9" fill="#000" text-anchor="end" stroke="#000" stroke-width="0.22" >0.8</text>
<line x1="385.3" y1="310.7" x2="385.3" y2="314.2" stroke="#000" stroke-width="1"/>
<text x="385.3" y="324.1" font-size="9.9" fill="#000" text-anchor="middle" stroke="#000" stroke-width="0.22" >0.8</text>
<line x1="263.8" y1="213.3" x2="267.9" y2="213.3" stroke="#000" stroke-width="1.1"/>
<text x="262.3" y="216.7" font-size="9.9" fill="#000" text-anchor="end" stroke="#000" stroke-width="0.22" >1.0</text>
<line x1="414.0" y1="310.7" x2="414.0" y2="314.2" stroke="#000" stroke-width="1"/>
<text x="414.0" y="324.1" font-size="9.9" fill="#000" text-anchor="middle" stroke="#000" stroke-width="0.22" >1.0</text>
<path d="M270.4 310 L270.4 213.3 L414 213.3" fill="none" stroke="#000" stroke-width="1.05" stroke-dasharray="3.3 1.5"/>
<text transform="translate(242.9,264.1) rotate(-90)" font-size="10.3" stroke="#000" stroke-width="0.22" text-anchor="middle">True positive rate</text>
<text x="340.75" y="340.3" font-size="10.3" fill="#000" text-anchor="middle" stroke="#000" stroke-width="0.22" >False positive rate</text>
<circle cx="280.2" cy="269.7" r="1.1" fill="#000"/>
<circle cx="280.2" cy="284.2" r="1.1" fill="#000"/>
<text x="287.9" y="273" font-size="10.15" fill="#000" text-anchor="start" stroke="#000" stroke-width="0.22" >AUC = 1.000</text>
<text x="287.9" y="288.1" font-size="10.15" fill="#000" text-anchor="start" stroke="#000" stroke-width="0.22" >Cross-validation accuracy</text>
<text x="287.9" y="299.7" font-size="10.15" fill="#000" text-anchor="start" stroke="#000" stroke-width="0.22" >= 0.991 +/- 0.008</text>
</svg>
</body></html>
